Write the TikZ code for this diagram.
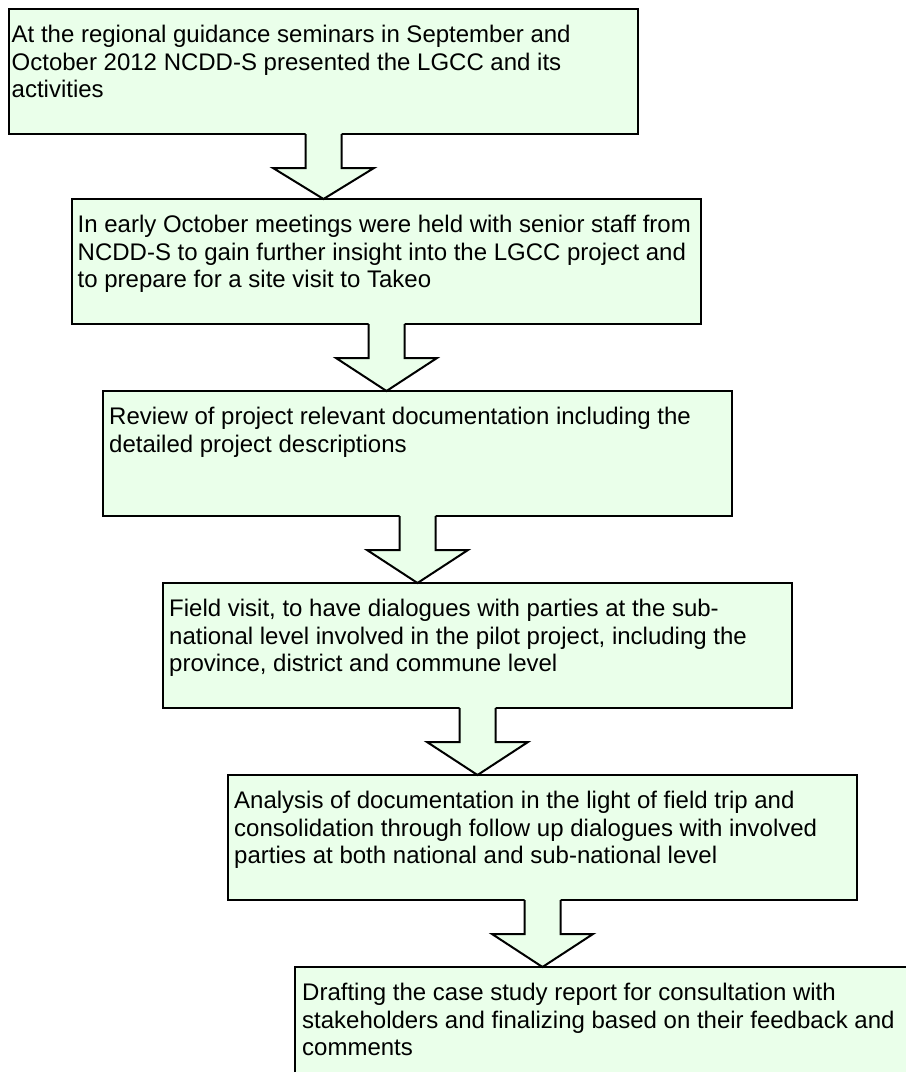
\documentclass[tikz,border=0pt]{standalone}
\usepackage{fontspec}
\setmainfont{Liberation Sans}
\usetikzlibrary{calc}
\definecolor{boxgreen}{RGB}{234,255,234}
\tikzset{
  box/.style={draw=black, fill=boxgreen, line width=2pt, rectangle, inner sep=0pt, outer sep=0pt,
              minimum width=629pt, minimum height=125pt, anchor=north west},
  boxtext/.style={anchor=north west, inner sep=0pt, align=left,
              font=\fontsize{24}{27.6}\selectfont},
  arrowfill/.style={fill=boxgreen},
  arrowline/.style={draw=black, line width=2pt, line join=miter}
}
\newcommand{\flowarrow}[2]{%
  \fill[arrowfill] ($(#1.south)+(-18,1.2)$) -- ($(#1.south)+(-18,-34)$) -- ($(#1.south)+(-50.5,-34)$)
     -- (#1.south |- #2.north) -- ($(#1.south)+(50.5,-34)$) -- ($(#1.south)+(18,-34)$) -- ($(#1.south)+(18,1.2)$) -- cycle;
  \draw[arrowline] ($(#1.south)+(-18,0)$) -- ($(#1.south)+(-18,-34)$) -- ($(#1.south)+(-50.5,-34)$)
     -- (#1.south |- #2.north) -- ($(#1.south)+(50.5,-34)$) -- ($(#1.south)+(18,-34)$) -- ($(#1.south)+(18,0)$);
}
\begin{document}
\begin{tikzpicture}[x=1pt,y=1pt]
\useasboundingbox (0,0) rectangle (906,-1082);
\fill[white] (0,0) rectangle (906,-1082);

\node[box] (b1) at (9,-9) {};
\node[box] (b2) at (72,-199) {};
\node[box] (b3) at (103,-391) {};
\node[box] (b4) at (163,-583) {};
\node[box] (b5) at (228,-775) {};
\node[box, draw=none, minimum width=611pt, minimum height=105pt] (b6) at (295,-967) {};
\draw[line width=2pt] (b6.south west) -- (b6.north west) -- (b6.north east);

\node[boxtext] (t1) at ($(b1.north west)+(2.5,-16)$) {At the regional guidance seminars in September and\\October 2012 NCDD-S presented the LGCC and its\\activities};
\node[boxtext] (t2) at ($(b2.north west)+(5.5,-16)$) {In early October meetings were held with senior staff from\\NCDD-S to gain further insight into the LGCC project and\\to prepare for a site visit to Takeo};
\node[boxtext] (t3) at ($(b3.north west)+(6,-16)$) {Review of project relevant documentation including the\\detailed project descriptions};
\node[boxtext] (t4) at ($(b4.north west)+(6,-16)$) {Field visit, to have dialogues with parties at the sub-\\national level involved in the pilot project, including the\\province, district and commune level};
\node[boxtext] (t5) at ($(b5.north west)+(6,-16)$) {Analysis of documentation in the light of field trip and\\consolidation through follow up dialogues with involved\\parties at both national and sub-national level};
\node[boxtext] (t6) at ($(b6.north west)+(7,-16)$) {Drafting the case study report for consultation with\\stakeholders and finalizing based on their feedback and\\comments};

\flowarrow{b1}{b2}
\flowarrow{b2}{b3}
\flowarrow{b3}{b4}
\flowarrow{b4}{b5}
\flowarrow{b5}{b6}
\end{tikzpicture}
\end{document}
